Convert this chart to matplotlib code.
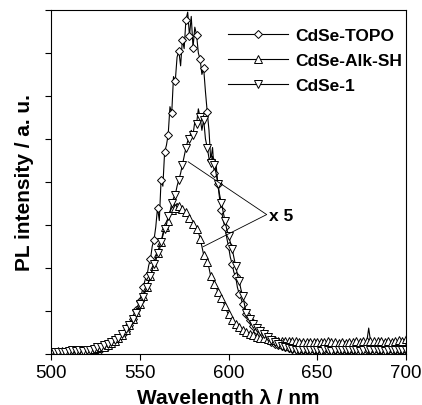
import numpy as np
import matplotlib as mpl
mpl.use('Agg')
import matplotlib.pyplot as plt

plt.rcParams['font.family'] = ['Liberation Sans', 'DejaVu Sans']

# wavelength grid, 1 nm steps (markers every 2 nm)
wavelength = np.arange(500, 701, 1)

# PL intensity (a.u.)
topo = [
    0.03, 0.05, 0.02, 0.04, 0.03, 0.05, 0.03, 0.02, 0.04, 0.03,
    0.04, 0.03, 0.05, 0.02, 0.04, 0.03, 0.05, 0.04, 0.03, 0.05,
    0.05, 0.07, 0.06, 0.08, 0.07, 0.09, 0.10, 0.12, 0.11, 0.14,
    0.15, 0.17, 0.19, 0.22, 0.24, 0.27, 0.30, 0.33, 0.36, 0.40,
    0.44, 0.48, 0.53, 0.60, 0.66, 0.74, 0.82, 0.92, 1.01, 1.12,
    1.24, 1.40, 1.55, 1.72, 1.80, 2.05, 2.20, 2.50, 2.65, 2.95,
    3.40, 3.10, 4.05, 3.90, 4.70, 4.85, 5.10, 5.75, 5.60, 6.45,
    6.35, 6.90, 7.05, 6.70, 7.30, 7.10, 7.77, 7.95, 7.40, 7.85,
    7.12, 7.60, 7.42, 7.00, 6.85, 6.50, 6.64, 6.10, 5.63, 5.20,
    4.50, 4.80, 4.20, 4.40, 3.95, 3.60, 3.35, 3.10, 2.95, 2.70,
    2.50, 2.25, 2.10, 1.90, 1.80, 1.55, 1.40, 1.30, 1.15, 1.05,
    0.92, 0.85, 0.78, 0.70, 0.65, 0.58, 0.52, 0.50, 0.46, 0.42,
    0.40, 0.36, 0.33, 0.30, 0.28, 0.26, 0.24, 0.22, 0.20, 0.19,
    0.18, 0.17, 0.15, 0.14, 0.14, 0.13, 0.12, 0.12, 0.11, 0.10,
    0.10, 0.12, 0.09, 0.11, 0.10, 0.08, 0.11, 0.09, 0.10, 0.12,
    0.09, 0.10, 0.08, 0.11, 0.10, 0.09, 0.12, 0.10, 0.08, 0.11,
    0.10, 0.09, 0.11, 0.08, 0.10, 0.12, 0.09, 0.10, 0.08, 0.11,
    0.09, 0.10, 0.12, 0.08, 0.10, 0.09, 0.11, 0.10, 0.08, 0.12,
    0.10, 0.09, 0.11, 0.10, 0.08, 0.12, 0.09, 0.10, 0.11, 0.08,
    0.10, 0.09, 0.12, 0.10, 0.08, 0.11, 0.09, 0.10, 0.08, 0.11,
    0.09,
]

alk_sh = [
    0.05, 0.06, 0.04, 0.05, 0.07, 0.05, 0.06, 0.04, 0.05, 0.06,
    0.06, 0.05, 0.07, 0.06, 0.05, 0.07, 0.06, 0.08, 0.07, 0.08,
    0.08, 0.09, 0.10, 0.10, 0.11, 0.12, 0.13, 0.14, 0.15, 0.16,
    0.17, 0.19, 0.21, 0.23, 0.25, 0.27, 0.30, 0.33, 0.37, 0.41,
    0.45, 0.50, 0.55, 0.61, 0.67, 0.75, 0.82, 0.90, 0.98, 1.06,
    1.15, 1.25, 1.35, 1.45, 1.55, 1.68, 1.80, 1.95, 2.05, 2.15,
    2.35, 2.40, 2.60, 2.80, 2.95, 3.05, 3.10, 3.30, 3.35, 3.55,
    3.40, 3.50, 3.45, 3.30, 3.38, 3.25, 3.30, 3.20, 3.15, 3.10,
    3.02, 2.95, 2.90, 2.84, 2.68, 2.50, 2.30, 2.25, 2.14, 2.00,
    1.80, 1.74, 1.62, 1.55, 1.44, 1.38, 1.30, 1.20, 1.12, 1.00,
    0.92, 0.86, 0.78, 0.74, 0.70, 0.66, 0.62, 0.58, 0.56, 0.54,
    0.51, 0.49, 0.47, 0.45, 0.43, 0.42, 0.40, 0.39, 0.38, 0.37,
    0.36, 0.35, 0.34, 0.34, 0.33, 0.32, 0.32, 0.31, 0.31, 0.30,
    0.30, 0.29, 0.31, 0.28, 0.30, 0.29, 0.31, 0.28, 0.30, 0.29,
    0.28, 0.30, 0.27, 0.29, 0.28, 0.30, 0.27, 0.29, 0.28, 0.30,
    0.27, 0.29, 0.28, 0.26, 0.28, 0.27, 0.29, 0.26, 0.28, 0.27,
    0.28, 0.27, 0.26, 0.28, 0.27, 0.29, 0.26, 0.28, 0.27, 0.29,
    0.28, 0.26, 0.29, 0.27, 0.28, 0.26, 0.29, 0.28, 0.30, 0.60,
    0.30, 0.28, 0.29, 0.27, 0.30, 0.28, 0.29, 0.30, 0.28, 0.31,
    0.29, 0.30, 0.28, 0.31, 0.30, 0.29, 0.32, 0.30, 0.31, 0.33,
    0.34,
]

cdse1 = [
    0.04, 0.06, 0.05, 0.07, 0.05, 0.06, 0.04, 0.07, 0.05, 0.06,
    0.07, 0.05, 0.08, 0.06, 0.07, 0.05, 0.08, 0.06, 0.07, 0.08,
    0.08, 0.09, 0.10, 0.11, 0.12, 0.13, 0.15, 0.16, 0.17, 0.19,
    0.20, 0.22, 0.24, 0.26, 0.28, 0.30, 0.32, 0.35, 0.38, 0.42,
    0.46, 0.52, 0.58, 0.64, 0.68, 0.74, 0.80, 0.88, 0.95, 1.05,
    1.15, 1.25, 1.32, 1.45, 1.55, 1.68, 1.80, 1.95, 2.10, 2.25,
    2.35, 2.50, 2.60, 2.75, 2.90, 3.00, 3.20, 3.30, 3.50, 3.62,
    3.70, 3.90, 4.05, 4.20, 4.40, 4.60, 4.79, 4.95, 5.00, 5.20,
    5.10, 5.40, 5.35, 5.70, 5.50, 5.20, 5.45, 5.00, 4.80, 4.55,
    4.45, 4.60, 4.40, 4.20, 3.95, 3.70, 3.50, 3.30, 3.10, 2.90,
    2.75, 2.60, 2.45, 2.25, 2.05, 1.85, 1.70, 1.50, 1.35, 1.15,
    0.95, 0.88, 0.80, 0.75, 0.70, 0.65, 0.60, 0.56, 0.53, 0.50,
    0.46, 0.43, 0.40, 0.36, 0.33, 0.30, 0.27, 0.24, 0.22, 0.20,
    0.18, 0.16, 0.15, 0.14, 0.13, 0.12, 0.12, 0.11, 0.10, 0.10,
    0.09, 0.11, 0.08, 0.10, 0.09, 0.07, 0.10, 0.08, 0.09, 0.11,
    0.08, 0.10, 0.07, 0.09, 0.11, 0.08, 0.09, 0.10, 0.07, 0.09,
    0.10, 0.08, 0.09, 0.07, 0.10, 0.09, 0.08, 0.11, 0.09, 0.07,
    0.09, 0.10, 0.08, 0.09, 0.07, 0.10, 0.08, 0.09, 0.11, 0.08,
    0.09, 0.07, 0.10, 0.08, 0.09, 0.11, 0.08, 0.09, 0.07, 0.10,
    0.08, 0.09, 0.10, 0.07, 0.09, 0.08, 0.10, 0.09, 0.08, 0.07,
    0.08,
]

labels = ['CdSe-TOPO', 'CdSe-Alk-SH', 'CdSe-1']
markers = ['D', '^', 'v']
msizes = [4.4, 5.8, 5.8]
xticks = [500, 550, 600, 650, 700]

fig = plt.figure(figsize=(4.22, 4.06), dpi=100)
ax = fig.add_axes([0.121, 0.126, 0.841, 0.847])

for y, lab, m, ms in zip([topo, alk_sh, cdse1], labels, markers, msizes):
    ax.plot(wavelength, y, color='black', lw=0.8, marker=m, markevery=2,
            ms=ms, mfc='white', mec='black', mew=0.7, label=lab)

ax.set_xlim(500, 700)
ax.set_ylim(0, 8)
ax.set_xticks(xticks)
ax.set_yticks(range(0, 9))
ax.set_yticklabels([])
ax.tick_params(direction='out', length=4, width=0.8, labelsize=13.5, pad=3)
for s in ax.spines.values():
    s.set_linewidth(0.8)

ax.set_xlabel('Wavelength λ / nm', fontsize=15, fontweight='bold', labelpad=5)
ax.set_ylabel('PL intensity / a. u.', fontsize=15, fontweight='bold', labelpad=5)

leg = ax.legend(loc='upper right', bbox_to_anchor=(1.0, 0.957), frameon=False,
                handlelength=3.45, handletextpad=0.46, labelspacing=0.57,
                borderaxespad=0, borderpad=0.2,
                prop={'weight': 'bold', 'size': 12.5})

# "x 5" pointers
for xy in [(577.2, 4.47), (585.6, 2.49)]:
    ax.annotate('', xy=xy, xytext=(621.5, 3.24),
                arrowprops=dict(arrowstyle='-', color='black', lw=0.6,
                                shrinkA=0, shrinkB=0))
ax.text(623.0, 3.22, 'x 5', fontsize=12.5, fontweight='bold', va='center', ha='left')

fig.savefig('out.png', dpi=100)
